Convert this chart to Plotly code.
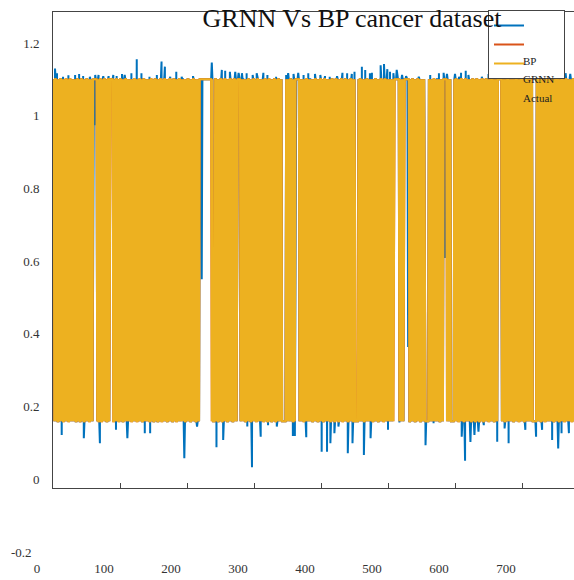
import plotly.graph_objects as go

# ---------------- data ----------------
HIGH_LEVEL = 1.1
LOW_LEVEL = 0.16

# class sequence of the "Actual" series, 10 samples per chunk (1 = high, 0 = low)
ACTUAL_CHUNKS = [
    "1011010010", "1101001011", "0100110101", "1010011010", "0110100101",
    "1010010101", "1111101001", "1001011010", "0110111110", "0101101001",
    "1010010110", "1011010010", "1101001011", "0100110101", "1010011010",
    "0110100101", "1001011010", "0101101001", "1010010110", "1011010010",
    "1101001011", "0100101011", "1111111111", "1111110100", "0110100101",
    "1001011010", "0101101001", "1010111110", "1011010010", "1101001011",
    "0100110101", "1010011010", "0110100101", "1001011010", "1000000101",
    "0101101001", "0111111010", "1010010110", "1011010010", "1101001011",
    "0100110101", "1010011010", "0110100101", "1001011010", "0101101001",
    "0000010110", "1010010110", "1011010010", "1101001011", "0100110101",
    "1010101011", "1111110101", "0101111111", "1001011010", "0101101001",
    "0101000000", "1010010110", "1011010010", "1011111010", "1010000010",
    "1101001011", "0100110101", "1010011010", "0110100101", "1001011010",
    "0101101001", "0101111110", "1010010110", "1011010010", "1101001011",
    "0100110101", "0101100000", "0101101001", "1010010110", "1011010010",
    "1101001011", "0100110101", "1010011010",
]

# BP predictions that differ from the actual level (sample index, value)
BP_IDX = [
    3, 6, 15, 23, 33, 39, 45, 55, 63, 68, 75, 83, 90, 95, 103, 107, 117, 125,
    132, 144, 155, 162, 167, 175, 184, 192, 209, 237, 252, 257, 264, 272, 277,
    282, 289, 298, 304, 314, 320, 333, 348, 351, 359, 366, 374, 381,
    391, 399, 406, 413, 424, 432, 439, 446, 450, 461, 466, 473, 476, 489, 494,
    499, 503, 508, 513, 521, 527, 546, 563, 576, 583, 588, 600, 606, 609, 616,
    620, 640, 650, 660, 668, 695, 710, 735, 744, 765, 772,
    13, 46, 70, 94, 111, 137, 145, 196, 215, 244, 254, 290, 297, 310, 321, 334,
    358, 361, 378, 401, 409, 414, 420, 426, 440, 447, 464, 474, 500, 517, 556,
    568, 610, 615, 623, 629, 635, 643, 663, 674, 680, 705, 721, 730, 745, 754,
    759, 770,
    62, 86, 221, 222, 530, 585,
]
BP_VAL = [
    1.130, 1.117, 1.107, 1.111, 1.112, 1.115, 1.109, 1.107, 1.112, 1.112, 1.109,
    1.109, 1.112, 1.109, 1.115, 1.112, 1.117, 1.155, 1.117, 1.107, 1.112, 1.149,
    1.135, 1.107, 1.121, 1.107, 1.109, 1.146, 1.126, 1.124, 1.121, 1.121, 1.118,
    1.117, 1.117, 1.112, 1.117, 1.118, 1.112, 1.107, 1.112, 1.117, 1.115, 1.118,
    1.112, 1.117,
    1.115, 1.112, 1.109, 1.107, 1.109, 1.118, 1.117, 1.115, 1.121, 1.135, 1.126,
    1.117, 1.118, 1.139, 1.142, 1.128, 1.121, 1.117, 1.126, 1.112, 1.109, 1.107,
    1.112, 1.117, 1.118, 1.115, 1.115, 1.107, 1.118, 1.124, 1.112, 1.107, 1.115,
    1.109, 1.117, 1.126, 1.112, 1.115, 1.112, 1.117, 1.115,
    0.122, 0.113, 0.099, 0.136, 0.113, 0.127, 0.127, 0.058, 0.145, 0.088, 0.108,
    0.145, 0.033, 0.117, 0.149, 0.145, 0.119, 0.119, 0.116, 0.076, 0.076, 0.099,
    0.127, 0.145, 0.072, 0.099, 0.067, 0.113, 0.136, 0.156, 0.094, 0.154, 0.117,
    0.051, 0.103, 0.122, 0.131, 0.149, 0.103, 0.140, 0.099, 0.136, 0.117, 0.136,
    0.108, 0.085, 0.127, 0.127,
    0.974, 1.040, 0.900, 0.550, 0.364, 0.609,
]

SERIES_NAMES = ["BP", "GRNN", "Actual"]
TITLE = "GRNN Vs BP cancer dataset"

# ---------------- build series ----------------
bits = "".join(ACTUAL_CHUNKS)
x = list(range(1, len(bits) + 1))
actual = [HIGH_LEVEL if b == "1" else LOW_LEVEL for b in bits]
grnn = list(actual)
bp = list(actual)
for i, v in zip(BP_IDX, BP_VAL):
    if 1 <= i <= len(bp):
        bp[i - 1] = v

COLORS = ["#0072BD", "#D95319", "#EDB120"]
SERIF = "Liberation Serif, Times New Roman, serif"
W, H = 574, 580

fig = go.Figure()
for name, ys, col in zip(SERIES_NAMES, [bp, grnn, actual], COLORS):
    fig.add_trace(go.Scatter(
        x=x, y=ys, mode="lines", name="\u00a0" * 24,
        line=dict(color=col, width=2), hoverinfo="skip",
    ))

# plot box geometry (pixels)
left_px, top_px, bottom_px = 53, 12, 488

fig.update_layout(
    width=W, height=H, autosize=False,
    margin=dict(l=0, r=0, t=0, b=0, autoexpand=False),
    paper_bgcolor="white", plot_bgcolor="white",
    font=dict(family=SERIF, size=13, color="#333333"),
    title=dict(
        text=TITLE, x=352 / W, xanchor="center", xref="paper",
        y=1 - 18 / H, yanchor="middle", yref="container",
        font=dict(family=SERIF, size=26, color="#111111"),
    ),
    showlegend=True,
    legend=dict(
        x=488 / W, xanchor="left", y=1 - 10 / H, yanchor="top",
        bgcolor="white", bordercolor="#444444", borderwidth=1,
        font=dict(family=SERIF, size=5, color="#333333"),
        tracegroupgap=0, itemwidth=30,
    ),
    xaxis=dict(
        domain=[left_px / W, 1], range=[0, 777.6], automargin=False,
        tick0=0, dtick=100, ticks="inside", ticklen=5, tickcolor="#444444",
        showline=True, linecolor="#444444", linewidth=1, mirror=True,
        showgrid=False, zeroline=False,
        ticklabelstandoff=68, ticklabelshift=-16,
        tickfont=dict(family=SERIF, size=13, color="#333333"),
    ),
    yaxis=dict(
        domain=[1 - bottom_px / H, 1 - top_px / H], range=[-0.0239, 1.2853],
        automargin=False,
        tick0=0, dtick=0.2, ticks="", showline=True, linecolor="#444444",
        linewidth=1, showgrid=False, zeroline=False, ticklabelstandoff=10,
        tickfont=dict(family=SERIF, size=13, color="#333333"),
    ),
)

# legend texts (drawn offset, as in the original figure)
for name, ypx in zip(SERIES_NAMES, [61, 79, 98]):
    fig.add_annotation(
        text=name, xref="paper", yref="paper", x=521 / W, y=1 - ypx / H,
        xanchor="left", yanchor="middle", showarrow=False,
        font=dict(family=SERIF, size=11, color="#222222"),
    )

# lowest y label sits below the box in the original
fig.add_annotation(
    text="-0.2", xref="paper", yref="paper", x=34 / W, y=1 - 552 / H,
    xanchor="right", yanchor="middle", showarrow=False,
    font=dict(family=SERIF, size=13, color="#333333"),
)

fig.write_html("out.html")
